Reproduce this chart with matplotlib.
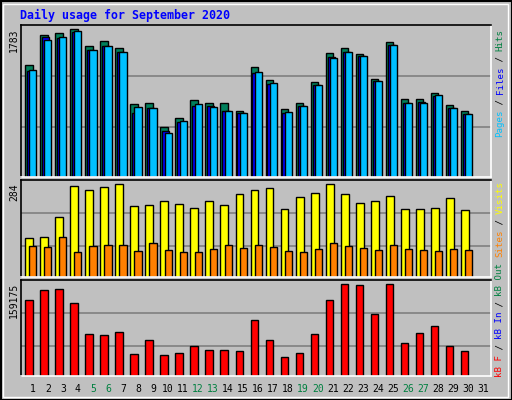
import matplotlib
matplotlib.use("Agg")
import matplotlib.pyplot as plt
from matplotlib.patches import Rectangle

days = list(range(1, 32))
hits = [1348,1710,1735,1783,1578,1638,1554,878,890,600,709,926,890,890,793,1324,1167,817,890,1143,1493,1554,1481,1179,1626,938,938,1010,866,793]
files = [1283,1685,1673,1745,1528,1576,1504,768,828,551,659,852,852,792,768,1250,1118,768,852,1106,1443,1504,1455,1154,1588,888,900,973,828,756]
pages = [1287,1648,1685,1757,1528,1576,1504,840,828,527,671,876,840,792,768,1262,1130,780,852,1106,1431,1504,1455,1154,1588,888,888,985,828,756]
visits = [118,121,182,278,265,274,284,216,219,232,222,210,232,219,253,265,271,207,244,256,284,253,226,232,247,207,207,210,241,204]
sites = [96,93,121,75,96,99,99,78,103,81,75,75,87,99,90,99,93,78,75,87,103,96,90,84,99,87,81,78,87,81]
kbytes = [131306,148736,150479,126077,72044,70301,75530,38927,61586,37184,40670,51128,45899,45899,44156,96446,61586,33698,40670,72044,131306,159175,157451,106904,159175,56357,73787,85988,51128,44156]
weekend = [5,6,12,13,19,20,26,27]

W, H = 512, 400
fig = plt.figure(figsize=(W/100, H/100), dpi=100)
fig.patch.set_facecolor("#C0C0C0")
MONO = "DejaVu Sans Mono"

def ax_at(x0, y0, x1, y1):
    ax = fig.add_axes([x0/W, 1-y1/H, (x1-x0)/W, (y1-y0)/H])
    ax.set_facecolor("#C0C0C0")
    ax.set_xticks([]); ax.set_yticks([])
    ax.set_xlim(-0.31, 31)
    for s in ("left", "top"):
        ax.spines[s].set_color("black")
    for s in ("right", "bottom"):
        ax.spines[s].set_color("white")
    for s in ax.spines.values():
        s.set_linewidth(1.2)
    return ax

# outer frame
fig.add_artist(Rectangle((0.5/W, 0.5/H), (W-1)/W, (H-1)/H, transform=fig.transFigure,
                         fill=False, edgecolor="black", lw=1.5))
fig.add_artist(Rectangle((3/W, 3/H), (W-7)/W, (H-7)/H, transform=fig.transFigure,
                         fill=False, edgecolor="white", lw=1))

x = [d-1 for d in days[:len(hits)]]

# top panel
ax1 = ax_at(20.7, 25, 490.7, 177)
ax1.set_ylim(0, 1835)
for g in (604, 1219):
    ax1.axhline(g, color="#808080", lw=1.2, zorder=0)
ax1.bar([i for i in x], hits, width=0.49, align="edge", color="#00805C", edgecolor="black", lw=1)
ax1.bar([i+0.13 for i in x], files, width=0.47, align="edge", color="#0000FF", edgecolor="black", lw=1)
ax1.bar([i+0.27 for i in x], pages, width=0.47, align="edge", color="#00C0FF", edgecolor="black", lw=1)

# middle panel
ax2 = ax_at(20.7, 179.5, 490.7, 277)
ax2.set_ylim(0, 298)
for g in (94, 196):
    ax2.axhline(g, color="#808080", lw=1.2, zorder=0)
ax2.bar([i for i in x], visits, width=0.53, align="edge", color="#FFFF00", edgecolor="black", lw=1)
ax2.bar([i+0.27 for i in x], sites, width=0.47, align="edge", color="#FF8000", edgecolor="black", lw=1)

# bottom panel
ax3 = ax_at(20.7, 280, 490.7, 376)
ax3.set_ylim(0, 166300)
for g in (51240, 108760):
    ax3.axhline(g, color="#808080", lw=1.2, zorder=0)
ax3.bar([i for i in x], kbytes, width=0.49, align="edge", color="#FF0000", edgecolor="black", lw=1)

def fx(px): return px/W
def fy(py): return 1-py/H

fig.text(fx(20), fy(15), "Daily usage for September 2020", family=MONO, weight="bold",
         fontsize=8.4, color="#0000FF", va="center", ha="left")

for txt, ytop in (("1783", 28), ("284", 183), ("159175", 283)):
    fig.text(fx(14), fy(ytop), txt, family=MONO, fontsize=7, rotation=90,
             va="top", ha="center", color="black")

for d in days:
    px = 25.3 + (d-1)*15.01 + 7.5
    fig.text(fx(px), fy(389), str(d), family=MONO, fontsize=7, ha="center", va="center",
             color="#008040" if d in weekend else "black")

CW = 5.4
def vlabel(parts, ybottom):
    y = ybottom
    for s, c in parts:
        fig.text(fx(500), fy(y), s, family=MONO, fontsize=6.6, rotation=90,
                 ha="center", va="bottom", color=c)
        y -= len(s)*CW

vlabel([("Pages", "#00C0FF"), (" / ", "black"), ("Files", "#0000FF"), (" / ", "black"), ("Hits", "#008040")], 137)
vlabel([("Sites", "#FF8000"), (" / ", "black"), ("Visits", "#FFFF00")], 257)
vlabel([("kB F", "#FF0000"), (" / ", "black"), ("kB In", "#0000FF"), (" / ", "black"), ("kB Out", "#008040")], 377)

fig.savefig("out.png", dpi=100, facecolor=fig.get_facecolor())
